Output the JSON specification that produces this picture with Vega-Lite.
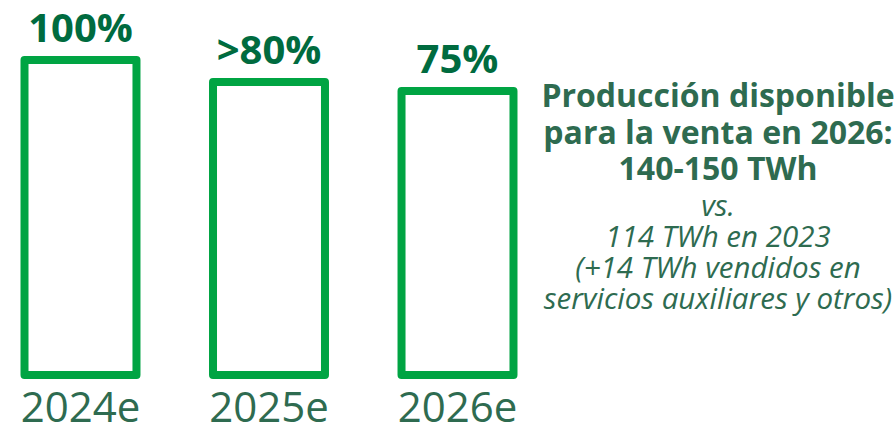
{
  "$schema": "https://vega.github.io/schema/vega-lite/v6.json",
  "background": "white",
  "padding": 0,
  "spacing": 0,
  "config": {"view": {"stroke": null}},
  "hconcat": [
    {
      "width": 538,
      "height": 375,
      "data": {"values": [
        {"year": "2024e", "h": 100, "label": "100%"},
        {"year": "2025e", "h": 93.0, "label": ">80%"},
        {"year": "2026e", "h": 90.2, "label": "75%"}
      ]},
      "encoding": {
        "x": {
          "field": "year", "type": "nominal", "sort": null,
          "scale": {"paddingInner": 0.406, "paddingOuter": 0.13},
          "axis": {
            "title": null, "domain": false, "ticks": false, "labelAngle": 0,
            "labelFont": "Open Sans", "labelFontSize": 42, "labelColor": "#2E6B50",
            "labelBaseline": "alphabetic", "labelPadding": 46, "labelLimit": 300
          }
        },
        "y": {
          "field": "h", "type": "quantitative",
          "scale": {"domain": [0, 119.05], "nice": false, "zero": true},
          "axis": null
        }
      },
      "layer": [
        {
          "mark": {"type": "bar", "fill": "white", "stroke": "#00A443", "strokeWidth": 8, "strokeJoin": "round"}
        },
        {
          "mark": {"type": "text", "baseline": "alphabetic", "align": "center", "dy": -18,
                   "font": "Open Sans", "fontWeight": "bold", "fontSize": 40, "fill": "#006B3F"},
          "encoding": {"text": {"field": "label"}}
        }
      ]
    },
    {
      "width": 360,
      "height": 375,
      "layer": [
        {
          "data": {"values": [
            {"col": "a", "line": 1, "text": "Producción disponible"},
            {"col": "a", "line": 2, "text": "para la venta en 2026:"},
            {"col": "a", "line": 3, "text": "140-150 TWh"}
          ]},
          "mark": {"type": "text", "baseline": "alphabetic", "align": "center",
                   "font": "Open Sans", "fontWeight": "bold", "fontSize": 32, "fill": "#2E6B50"},
          "encoding": {
            "x": {"field": "col", "type": "nominal", "scale": {"type": "point"}, "axis": null},
            "y": {"field": "line", "type": "ordinal", "scale": {"type": "point", "range": [107, 180], "padding": 0}, "axis": null},
            "text": {"field": "text"}
          }
        },
        {
          "data": {"values": [
            {"col": "a", "line": 1, "text": "vs."},
            {"col": "a", "line": 2, "text": "114 TWh en 2023"},
            {"col": "a", "line": 3, "text": "(+14 TWh vendidos en"},
            {"col": "a", "line": 4, "text": "servicios auxiliares y otros)"}
          ]},
          "mark": {"type": "text", "baseline": "alphabetic", "align": "center",
                   "font": "Open Sans", "fontStyle": "italic", "fontSize": 29.5, "fill": "#2E6B50"},
          "encoding": {
            "x": {"field": "col", "type": "nominal", "scale": {"type": "point"}, "axis": null},
            "y": {"field": "line", "type": "ordinal", "scale": {"type": "point", "range": [215.5, 308.5], "padding": 0}, "axis": null},
            "text": {"field": "text"}
          }
        }
      ],
      "resolve": {"scale": {"y": "independent"}}
    }
  ]
}
